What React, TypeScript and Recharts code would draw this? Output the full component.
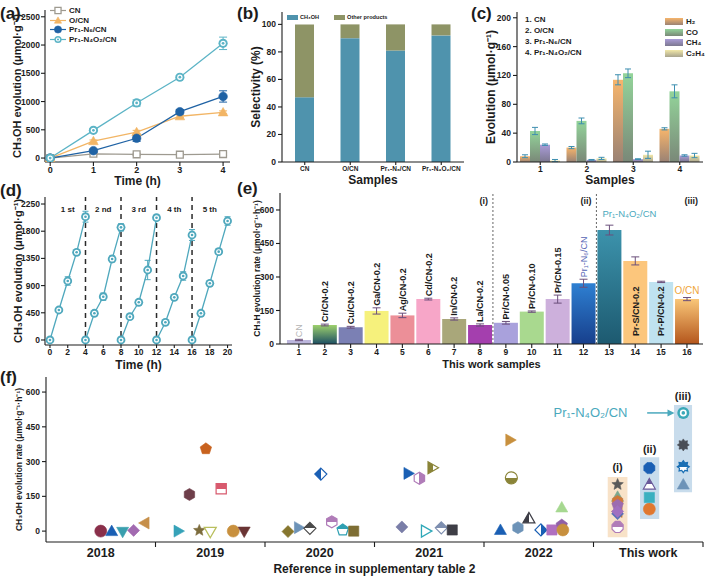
import React from "react";
import {
  LineChart,
  Line,
  BarChart,
  Bar,
  ScatterChart,
  Scatter,
  XAxis,
  YAxis,
  ErrorBar,
  ReferenceLine,
  ReferenceArea,
  ReferenceDot,
  Legend,
  Cell,
  LabelList,
} from "recharts";

const FONT = '"Liberation Sans", Arial, sans-serif';
const INK = "#1c1c1c";

// (a) CH3OH evolution vs time
const timeA = [0, 1, 2, 3, 4];
const cnA = [0, 75, 65, 60, 70];
const cnErrA = [4, 15, 20, 20, 20];
const ocnA = [0, 300, 460, 740, 810];
const ocnErrA = [4, 20, 30, 20, 25];
const prN6A = [0, 130, 350, 820, 1090];
const prN6ErrA = [4, 25, 55, 40, 100];
const prN4O2A = [0, 490, 975, 1430, 2030];
const prN4O2ErrA = [4, 25, 55, 25, 110];

// (b) selectivity
const samplesB = ["CN", "O/CN", "Pr₁-N₆/CN", "Pr₁-N₄O₂/CN"];
const methanolSelB = [47, 90, 81, 92];
const otherSelB = [53, 10, 19, 8];

// (c) other products
const samplesC = ["1", "2", "3", "4"];
const sampleNamesC = ["CN", "O/CN", "Pr₁-N₆/CN", "Pr₁-N₄O₂/CN"];
const h2C = [8, 20, 114, 46];
const h2ErrC = [2, 1.5, 7, 1.5];
const coC = [43, 57, 123, 98];
const coErrC = [5, 4, 6, 9];
const ch4C = [24, 3, 4, 9];
const ch4ErrC = [1, 0.5, 0.5, 1];
const c2h4C = [2, 5, 10, 9];
const c2h4ErrC = [1.5, 1.5, 5, 3];

// (d) cycling test
const cycleLabelsD = ["1 st", "2 nd", "3 rd", "4 th", "5 th"];
const cycleStartsD = [0, 4, 8, 12, 16];
const cycle1D = [0, 496, 976, 1451, 2040];
const cycle2D = [0, 442, 716, 1340, 1864];
const cycle3D = [0, 385, 624, 1158, 2023];
const cycle4D = [0, 293, 706, 1059, 1737];
const cycle5D = [0, 442, 938, 1461, 1969];
const cycle1ErrD = [10, 30, 70, 30, 90];
const cycle2ErrD = [10, 25, 60, 50, 60];
const cycle3ErrD = [10, 25, 30, 160, 30];
const cycle4ErrD = [10, 25, 30, 70, 90];
const cycle5ErrD = [10, 30, 30, 40, 70];
const cyclesD = [cycle1D, cycle2D, cycle3D, cycle4D, cycle5D];
const cycleErrsD = [cycle1ErrD, cycle2ErrD, cycle3ErrD, cycle4ErrD, cycle5ErrD];

// (e) rates of all samples
const samplesE = [1, 2, 3, 4, 5, 6, 7, 8, 9, 10, 11, 12, 13, 14, 15, 16];
const namesE = [
  "CN", "Cr/CN-0.2", "Cu/CN-0.2", "Ga/CN-0.2", "Ag/CN-0.2", "Cd/CN-0.2", "In/CN-0.2", "La/CN-0.2",
  "Pr/CN-0.05", "Pr/CN-0.10", "Pr/CN-0.15", "Pr₁-N₆/CN", "Pr₁-N₄O₂/CN", "Pr-S/CN-0.2", "Pr-P/CN-0.2", "O/CN",
];
const ratesE = [18, 85, 75, 148, 128, 201, 112, 85, 95, 145, 201, 272, 510, 372, 278, 201];
const errE = [3, 4, 4, 14, 10, 4, 5, 5, 6, 3, 18, 18, 22, 18, 3, 7];
const sectionsE = [
  { from: 0.27, to: 8.5, label: "(i)" },
  { from: 8.5, to: 12.5, label: "(ii)" },
  { from: 12.5, to: 16.62, label: "(iii)" },
];

// (f) comparison with references
const yearsF = ["2018", "2019", "2020", "2021", "2022", "This work"];
const refPosF = [
  0.5, 0.6, 0.7, 0.8, 0.9,
  1.21, 1.31, 1.4, 1.46, 1.5, 1.6, 1.71, 1.81,
  2.21, 2.31, 2.41, 2.51, 2.61, 2.71, 2.81,
  3.25, 3.31, 3.41, 3.47, 3.53, 3.61, 3.71,
  4.15, 4.24, 4.25, 4.31, 4.41, 4.52, 4.62, 4.71, 4.71, 4.72,
];
const refRateF = [
  0, 0, -3, 3, 35,
  0, 158, 3, 355, -3, 183, 0, -2,
  -2, 15, 12, 246, 40, 5, 0,
  18, 249, 228, 0, 273, 14, 5,
  5, 393, 230, 15, 55, 5, 5, 26, 102, 5,
];
const workGroupF = [0, 0, 0, 0, 0, 0, 0, 0, 1, 1, 1, 1, 2, 2, 2, 2];
const workGroupPosF = [5.22, 5.51, 5.82];

// marker styles [shape, colour, fill]
const refMarkF: [string, string, string][] = [
  ["circle", "#8a2f4a", "full"], ["triUp", "#1a5fb4", "full"], ["triDown", "#3a9fae", "full"], ["diamond", "#a26ab0", "full"], ["triLeft", "#c68f4a", "full"],
  ["triRight", "#36a2b8", "full"], ["hexagon", "#6e3e4a", "full"], ["star", "#7c6c3c", "full"], ["pentagon", "#c8621e", "full"], ["triDown", "#b9bf5e", "open"], ["square", "#d85a6e", "top"], ["circle", "#c8903e", "full"], ["triDown", "#6a3434", "full"],
  ["diamond", "#86762e", "full"], ["triRight", "#6d93b8", "full"], ["diamond", "#4a4a4a", "top"], ["diamond", "#1a5fb4", "left"], ["hexagon", "#b07cb8", "top"], ["pentagon", "#2fa0b2", "top"], ["square", "#7e6e34", "full"],
  ["diamond", "#7a7ea8", "full"], ["triRight", "#1a5fb4", "full"], ["hexagon", "#b07cb8", "right"], ["triRight", "#2fa8b8", "open"], ["triRight", "#8a8438", "left"], ["diamond", "#7e8fb0", "top"], ["square", "#3e3e46", "full"],
  ["triUp", "#1a5fb4", "full"], ["triRight", "#c8903e", "full"], ["circle", "#8a8438", "bottom"], ["hexagon", "#6d93b8", "full"], ["triUp", "#3e3e46", "left"], ["diamond", "#1a5fb4", "right"], ["square", "#b070c0", "full"], ["pentagon", "#9060a8", "full"], ["triUp", "#a6d890", "full"], ["circle", "#c8903e", "full"],
];
const workMarkF: [string, string, string][] = [
  ["octagon", "#b07cb8", "top"], ["triLeft", "#c87a30", "full"], ["diamond", "#5a70b8", "full"], ["triUp", "#7aa890", "full"],
  ["hexagon", "#d07838", "full"], ["star", "#5a5a5a", "full"], ["pentagon", "#9c6cb0", "full"], ["diamond", "#a070c0", "full"],
  ["circle", "#e07830", "full"], ["square", "#3ab0c0", "full"], ["triUp", "#6a5a9a", "top"], ["octagon", "#1a5fb4", "full"],
  ["ring", "#3aa8b8", "full"], ["gear", "#4a4e56", "full"], ["gear", "#1a6fb4", "top"], ["triUp", "#6d93b8", "full"],
];

// ---------- helpers ----------
const tk = (size: number) => ({ fontSize: size, fontWeight: 700, fill: INK });
const ttl = (size: number) => ({ fontSize: size, fontWeight: 700, fill: INK, textAnchor: "middle" as const });
const ax = { stroke: INK, strokeWidth: 1.1 };
const yTitle = (value: string, offset: number, size: number) => ({
  value, angle: -90, position: "insideLeft" as const, offset, textAnchor: "middle", style: ttl(size),
});
const xTitle = (value: string, offset: number, size: number) => ({
  value, position: "insideBottom" as const, offset, style: ttl(size),
});
const frame = <ReferenceArea fill="none" stroke={INK} strokeWidth={1.1} ifOverflow="visible" />;

function shapeD(shape: string, cx: number, cy: number, s: number): string {
  const P = (pts: number[][]) =>
    "M" + pts.map(([dx, dy]) => `${(cx + dx).toFixed(2)},${(cy + dy).toFixed(2)}`).join("L") + "Z";
  const reg = (n: number, rot: number) =>
    P(Array.from({ length: n }, (_, k) => {
      const a = rot + (2 * Math.PI * k) / n;
      return [s * Math.cos(a), s * Math.sin(a)];
    }));
  const star = (n: number, inner: number) =>
    P(Array.from({ length: 2 * n }, (_, k) => {
      const a = -Math.PI / 2 + (Math.PI * k) / n;
      const r = k % 2 ? s * inner : s;
      return [r * Math.cos(a), r * Math.sin(a)];
    }));
  const h = s * 0.85;
  switch (shape) {
    case "circle":
      return `M${cx - s},${cy}a${s},${s} 0 1,0 ${2 * s},0a${s},${s} 0 1,0 ${-2 * s},0Z`;
    case "square":
      return P([[-h, -h], [h, -h], [h, h], [-h, h]]);
    case "diamond":
      return P([[0, -s], [s, 0], [0, s], [-s, 0]]);
    case "triUp":
      return P([[0, -s], [s, s * 0.75], [-s, s * 0.75]]);
    case "triDown":
      return P([[0, s], [s, -s * 0.75], [-s, -s * 0.75]]);
    case "triLeft":
      return P([[-s, 0], [s * 0.75, -s], [s * 0.75, s]]);
    case "triRight":
      return P([[s, 0], [-s * 0.75, -s], [-s * 0.75, s]]);
    case "hexagon":
      return reg(6, Math.PI / 6);
    case "pentagon":
      return reg(5, -Math.PI / 2);
    case "octagon":
      return reg(8, Math.PI / 8);
    case "star":
      return star(5, 0.45);
    case "gear":
      return star(8, 0.68);
    default:
      return reg(4, 0);
  }
}

const halfDir: Record<string, number[]> = {
  top: [0, 0, 0, 1],
  bottom: [0, 1, 0, 0],
  left: [0, 0, 1, 0],
  right: [1, 0, 0, 0],
};

function Marker(props: { shape: string; color: string; fill: string; cx: number; cy: number; s: number; uid: string }) {
  const { shape, color, fill, cx, cy, s, uid } = props;
  if (cx == null || cy == null) return null;
  if (shape === "ring") {
    return (
      <g>
        <circle cx={cx} cy={cy} r={s} fill={color} />
        <circle cx={cx} cy={cy} r={s * 0.58} fill="#fff" />
        <circle cx={cx} cy={cy} r={s * 0.3} fill={color} />
      </g>
    );
  }
  const d = shapeD(shape, cx, cy, s);
  if (fill === "full") return <path d={d} fill={color} stroke={color} strokeWidth={0.6} />;
  if (fill === "open") return <path d={d} fill="#fff" stroke={color} strokeWidth={1.3} />;
  const dir = halfDir[fill];
  const id = `half-${uid}`;
  return (
    <g>
      <defs>
        <linearGradient id={id} x1={dir[0]} y1={dir[1]} x2={dir[2]} y2={dir[3]}>
          <stop offset="0.5" stopColor={color} />
          <stop offset="0.5" stopColor="#fff" />
        </linearGradient>
      </defs>
      <path d={d} fill={`url(#${id})`} stroke={color} strokeWidth={1.2} />
    </g>
  );
}

// ---------- (a) ----------
const seriesA = [
  { key: "cn", label: "CN", color: "#9e9a90", shape: "square", fill: "open", size: 4 },
  { key: "ocn", label: "O/CN", color: "#f2b565", shape: "triUp", fill: "full", size: 4.8 },
  { key: "prN6", label: "Pr₁-N₆/CN", color: "#1f62a4", shape: "circle", fill: "full", size: 4.3 },
  { key: "prN4O2", label: "Pr₁-N₄O₂/CN", color: "#5cb4c6", shape: "ring", fill: "full", size: 4.6 },
];
const rowsA = timeA.map((t, i) => ({
  t,
  cn: cnA[i], cnErr: cnErrA[i],
  ocn: ocnA[i], ocnErr: ocnErrA[i],
  prN6: prN6A[i], prN6Err: prN6ErrA[i],
  prN4O2: prN4O2A[i], prN4O2Err: prN4O2ErrA[i],
}));

const LegendA = () => (
  <div style={{ fontSize: 8, fontWeight: 700, color: INK, fontFamily: FONT }}>
    {seriesA.map((s) => (
      <div key={s.key} style={{ display: "flex", alignItems: "center", height: 9.6 }}>
        <svg width={16} height={9}>
          <line x1={0} x2={16} y1={4.5} y2={4.5} stroke={s.color} strokeWidth={1.2} />
          <Marker shape={s.shape} color={s.color} fill={s.fill} cx={8} cy={4.5} s={3.6} uid={`lg-${s.key}`} />
        </svg>
        <span style={{ marginLeft: 3 }}>{s.label}</span>
      </div>
    ))}
  </div>
);

function PanelA() {
  return (
    <LineChart width={235} height={192} data={rowsA} margin={{ top: 10, right: 5, bottom: 0, left: 0 }}>
      <XAxis type="number" dataKey="t" domain={[-0.12, 4.16]} ticks={timeA} allowDataOverflow height={30}
        tick={tk(9)} tickSize={4} tickMargin={1} axisLine={ax} tickLine={ax} label={xTitle("Time (h)", 7, 12)} />
      <YAxis type="number" domain={[-70, 2620]} ticks={[0, 500, 1000, 1500, 2000, 2500]} allowDataOverflow width={45}
        tick={tk(8.5)} tickSize={4} tickMargin={1} axisLine={ax} tickLine={ax} label={yTitle("CH₃OH evolution (μmol·g⁻¹)", 17, 11)} />
      {seriesA.map((s) => (
        <Line key={s.key} dataKey={s.key} stroke={s.color} strokeWidth={1.3} isAnimationActive={false}
          dot={(p: any) => (
            <Marker key={`${s.key}-${p.index}`} shape={s.shape} color={s.color} fill={s.fill} cx={p.cx} cy={p.cy} s={s.size} uid={`a-${s.key}-${p.index}`} />
          )}>
          <ErrorBar dataKey={`${s.key}Err`} width={4} stroke={s.color} strokeWidth={1} />
        </Line>
      ))}
      <Legend verticalAlign="middle" align="center" layout="horizontal"
        wrapperStyle={{ left: 50, top: 6, width: "auto" }} content={() => <LegendA />} />
      {frame}
    </LineChart>
  );
}

// ---------- (b) ----------
const rowsB = samplesB.map((name, i) => ({ name, methanol: methanolSelB[i], other: otherSelB[i] }));
const colorMethanol = "#4f93ad";
const colorOther = "#8e9466";

const LegendB = () => (
  <div style={{ display: "flex", alignItems: "center", fontSize: 5.6, fontWeight: 700, color: INK, fontFamily: FONT }}>
    <span style={{ width: 11, height: 5, background: colorMethanol, display: "inline-block" }} />
    <span style={{ marginLeft: 2, marginRight: 15 }}>CH₃OH</span>
    <span style={{ width: 11, height: 5, background: colorOther, display: "inline-block" }} />
    <span style={{ marginLeft: 2 }}>Other products</span>
  </div>
);

function PanelB() {
  return (
    <BarChart width={235} height={192} data={rowsB} margin={{ top: 12, right: 6, bottom: 0, left: 0 }}>
      <XAxis dataKey="name" interval={0} height={30} tick={tk(6.5)} tickSize={3} tickMargin={1} axisLine={ax} tickLine={ax}
        label={xTitle("Samples", 8, 12)} />
      <YAxis type="number" domain={[0, 109]} ticks={[0, 20, 40, 60, 80, 100]} allowDataOverflow width={47}
        tick={tk(8.5)} tickSize={4} axisLine={ax} tickLine={ax} label={yTitle("Selectivity (%)", 21, 12)} />
      <Bar dataKey="methanol" stackId="s" fill={colorMethanol} barSize={19} isAnimationActive={false} />
      <Bar dataKey="other" stackId="s" fill={colorOther} barSize={19} isAnimationActive={false} />
      <Legend verticalAlign="middle" align="center" layout="horizontal"
        wrapperStyle={{ left: 52, top: 14, width: "auto" }} content={() => <LegendB />} />
      {frame}
    </BarChart>
  );
}

// ---------- (c) ----------
const seriesC = [
  { key: "h2", label: "H₂", id: "gradH2", top: "#f7b56c", bottom: "#9a8274" },
  { key: "co", label: "CO", id: "gradCO", top: "#93d49a", bottom: "#7a8878" },
  { key: "ch4", label: "CH₄", id: "gradCH4", top: "#aa9cd8", bottom: "#7c7890" },
  { key: "c2h4", label: "C₂H₄", id: "gradC2H4", top: "#f2e8a8", bottom: "#a8a48e" },
];
const rowsC = samplesC.map((name, i) => ({
  name,
  h2: h2C[i], h2Err: h2ErrC[i],
  co: coC[i], coErr: coErrC[i],
  ch4: ch4C[i], ch4Err: ch4ErrC[i],
  c2h4: c2h4C[i], c2h4Err: c2h4ErrC[i],
}));

const LegendC = () => (
  <div style={{ fontSize: 8, fontWeight: 700, color: INK, fontFamily: FONT }}>
    {seriesC.map((s) => (
      <div key={s.key} style={{ display: "flex", alignItems: "center", height: 10.8 }}>
        <span style={{ width: 18, height: 7, display: "inline-block", background: `linear-gradient(${s.top}, ${s.bottom})` }} />
        <span style={{ marginLeft: 3 }}>{s.label}</span>
      </div>
    ))}
  </div>
);

function PanelC() {
  return (
    <BarChart width={239} height={192} data={rowsC} margin={{ top: 12, right: 6, bottom: 0, left: 0 }}
      barCategoryGap={3} barGap={0}>
      <defs>
        {seriesC.map((s) => (
          <linearGradient key={s.id} id={s.id} x1="0" y1="0" x2="0" y2="1">
            <stop offset="0" stopColor={s.top} />
            <stop offset="1" stopColor={s.bottom} />
          </linearGradient>
        ))}
      </defs>
      <XAxis dataKey="name" interval={0} height={30} tick={tk(8.5)} tickSize={3} tickMargin={1} axisLine={ax} tickLine={ax}
        label={xTitle("Samples", 8, 12)} />
      <YAxis type="number" domain={[0, 208]} ticks={[0, 40, 80, 120, 160, 200]} allowDataOverflow width={47}
        tick={tk(8.5)} tickSize={4} axisLine={ax} tickLine={ax} label={yTitle("Evolution (μmol·g⁻¹)", 21, 12)} />
      {seriesC.map((s) => (
        <Bar key={s.key} dataKey={s.key} fill={`url(#${s.id})`} barSize={10} isAnimationActive={false}>
          <ErrorBar dataKey={`${s.key}Err`} width={3} stroke="#3e8fb0" strokeWidth={1} />
        </Bar>
      ))}
      <Legend verticalAlign="middle" align="center" layout="horizontal"
        wrapperStyle={{ left: 195, top: 16, width: "auto" }} content={() => <LegendC />} />
      {frame}
    </BarChart>
  );
}

// ---------- (d) ----------
const colorD = "#4fa8bd";
const rowsD = cyclesD.map((vals, k) =>
  vals.map((v, j) => ({ t: cycleStartsD[k] + j, v, e: cycleErrsD[k][j] }))
);

function PanelD() {
  return (
    <LineChart width={240} height={185} margin={{ top: 7, right: 8, bottom: 0, left: 0 }}>
      <XAxis type="number" dataKey="t" domain={[-0.56, 20.5]} ticks={[0, 2, 4, 6, 8, 10, 12, 14, 16, 18, 20]}
        allowDataOverflow height={30} tick={tk(8.5)} tickSize={3} tickMargin={1} axisLine={ax} tickLine={ax}
        label={xTitle("Time (h)", 6, 12)} />
      <YAxis type="number" domain={[-83, 2366]} ticks={[0, 450, 900, 1350, 1800, 2250]} allowDataOverflow width={45}
        tick={tk(8.5)} tickSize={4} tickMargin={1} axisLine={ax} tickLine={ax} label={yTitle("CH₃OH evolution (μmol·g⁻¹)", 18, 11)} />
      {cycleStartsD.slice(1).map((x) => (
        <ReferenceLine key={x} x={x} stroke="#2a2a2a" strokeWidth={1.5} strokeDasharray="5 4" />
      ))}
      {cycleStartsD.map((x, k) => (
        <ReferenceArea key={`c${k}`} x1={x} x2={x + 4} fill="none" ifOverflow="visible"
          label={{ value: cycleLabelsD[k], position: "insideTop", offset: 9, style: { ...tk(8) } }} />
      ))}
      {rowsD.map((rows, k) => (
        <Line key={k} data={rows} dataKey="v" stroke={colorD} strokeWidth={1.3} isAnimationActive={false}
          dot={(p: any) => (
            <Marker key={`d${k}-${p.index}`} shape="ring" color={colorD} fill="full" cx={p.cx} cy={p.cy} s={4.4} uid={`d${k}-${p.index}`} />
          )}>
          <ErrorBar dataKey="e" width={3} stroke={colorD} strokeWidth={1} />
        </Line>
      ))}
      {frame}
    </LineChart>
  );
}

// ---------- (e) ----------
const fillsE = [
  "#bcb6dc", "url(#gradCr)", "#7b80b4", "#f6f17c", "#ec8f98", "#f7a6c8", "#a9a77a", "#a43fae",
  "#a9a1dc", "#a9d98f", "#cdb0dc", "url(#gradPrN6)", "url(#gradPrN4O2)", "#fcc67c", "#bfe2f0", "url(#gradOCN)",
];
const gradientsE = [
  { id: "gradCr", top: "#9dd06c", bottom: "#1d4f63" },
  { id: "gradPrN6", top: "#2e80d2", bottom: "#173f8c" },
  { id: "gradPrN4O2", top: "#3c93ac", bottom: "#1d5a70" },
  { id: "gradOCN", top: "#f9c678", bottom: "#b4561c" },
];
const rowsE = samplesE.map((idx, i) => ({ idx, rate: ratesE[i], err: errE[i] }));

const renderLabelE = (p: any) => {
  const i: number = p.index;
  const x = Number(p.x);
  const y = Number(p.y);
  const w = Number(p.width);
  const h = Number(p.height);
  const cx = x + w / 2;
  const top = y - errE[i] * (h / ratesE[i]);
  const name = namesE[i];
  if (i === 12) {
    return (
      <text x={cx + 20} y={top - 8} textAnchor="middle" fontSize={9.5} fontWeight={400} fill="#4aa9bd">{name}</text>
    );
  }
  if (i === 15) {
    return (
      <text x={cx} y={top - 4} textAnchor="middle" fontSize={10} fontWeight={400} fill="#efa63a">{name}</text>
    );
  }
  const inside = i === 13 || i === 14;
  const start = inside ? y + h - 8 : top - 2;
  const color = i === 0 ? "#b4b4b4" : i === 11 ? "#5565b5" : INK;
  const weight = i === 0 || i === 11 ? 400 : 700;
  return (
    <text transform={`translate(${cx + 3.3},${start}) rotate(-90)`} fontSize={9} fontWeight={weight} fill={color}>
      {name}
    </text>
  );
};

function PanelE() {
  return (
    <BarChart width={474} height={185} data={rowsE} margin={{ top: 3, right: 6, bottom: 0, left: 0 }}>
      <defs>
        {gradientsE.map((g) => (
          <linearGradient key={g.id} id={g.id} x1="0" y1="0" x2="0" y2="1">
            <stop offset="0" stopColor={g.top} />
            <stop offset="1" stopColor={g.bottom} />
          </linearGradient>
        ))}
      </defs>
      <XAxis type="number" dataKey="idx" domain={[0.27, 16.62]} ticks={samplesE} allowDataOverflow interval={0}
        height={31} tick={tk(8.5)} tickSize={4} tickMargin={1} axisLine={ax} tickLine={ax}
        label={xTitle("This work samples", 7, 11)} />
      <YAxis type="number" domain={[0, 676]} ticks={[0, 150, 300, 450, 600]} allowDataOverflow width={45}
        tick={tk(8.5)} tickSize={4} axisLine={ax} tickLine={ax}
        label={yTitle("CH₃H evolution rate (μmol·g⁻¹·h⁻¹)", 22, 8.5)} />
      {sectionsE.map((s) => (
        <ReferenceArea key={s.label} x1={s.from} x2={s.to} fill="none" ifOverflow="visible"
          label={{ value: s.label, position: "insideTopRight", offset: 5, style: tk(9) }} />
      ))}
      <ReferenceLine x={8.5} stroke="#555" strokeWidth={0.9} strokeDasharray="2 2" />
      <ReferenceLine x={12.5} stroke="#555" strokeWidth={0.9} strokeDasharray="2 2" />
      <Bar dataKey="rate" barSize={24} isAnimationActive={false}>
        {rowsE.map((r, i) => (
          <Cell key={r.idx} fill={fillsE[i]} />
        ))}
        <ErrorBar dataKey="err" width={4} stroke="#6b4f7b" strokeWidth={1} />
        <LabelList dataKey="rate" content={renderLabelE} />
      </Bar>
      {frame}
    </BarChart>
  );
}

// ---------- (f) ----------
const unitF = (709 - 6 - 46) / 6;
const rowsRefF = refPosF.map((x, i) => ({ x, rate: refRateF[i], i }));
const rowsWorkF = ratesE.map((rate, i) => ({ x: workGroupPosF[workGroupF[i]], rate, i }));
const boxesF = [
  { x1: 5.13, x2: 5.31, y1: -26, y2: 233, fill: "#f8e2c8", label: "(i)", offset: 6 },
  { x1: 5.425, x2: 5.6, y1: 52, y2: 319, fill: "#c8dcec", label: "(ii)", offset: 4 },
  { x1: 5.735, x2: 5.9, y1: 168, y2: 544, fill: "#c8dcec", label: "(iii)", offset: 5 },
];
const tealF = "#4aa9bd";

const YearTick = (p: any) => (
  <text x={p.x - unitF / 2} y={p.y + 8} textAnchor="middle" fontSize={12.5} fontWeight={700} fill={INK}>
    {yearsF[p.payload.value - 1]}
  </text>
);

function PanelF() {
  return (
    <ScatterChart width={709} height={207} margin={{ top: 5, right: 6, bottom: 0, left: 0 }}>
      <XAxis type="number" dataKey="x" domain={[0, 6]} ticks={[1, 2, 3, 4, 5, 6]} allowDataOverflow height={37}
        tick={<YearTick />} tickSize={5} axisLine={ax} tickLine={ax}
        label={xTitle("Reference in supplementary table 2", 6, 12)} />
      <YAxis type="number" dataKey="rate" domain={[-47, 665]} ticks={[0, 150, 300, 450, 600]} allowDataOverflow width={46}
        tick={tk(8.5)} tickSize={4} axisLine={ax} tickLine={ax}
        label={yTitle("CH₃OH evolution rate (μmol·g⁻¹·h⁻¹)", 19, 8.5)} />
      {boxesF.map((b) => (
        <ReferenceArea key={b.label} x1={b.x1} x2={b.x2} y1={b.y1} y2={b.y2} fill={b.fill} fillOpacity={1}
          ifOverflow="visible" label={{ value: b.label, position: "top", offset: b.offset, style: tk(11) }} />
      ))}
      <ReferenceLine segment={[{ x: 5.49, y: 510 }, { x: 5.72, y: 510 }]} stroke={tealF} strokeWidth={1.5} ifOverflow="visible" />
      <ReferenceDot x={5.74} y={510} ifOverflow="visible"
        shape={(p: any) => <path d={`M${p.cx},${p.cy}l-7,-3.5v7z`} fill={tealF} />} />
      <ReferenceDot x={5.31} y={510} ifOverflow="visible"
        shape={(p: any) => (
          <text x={p.cx} y={p.cy + 4.5} textAnchor="end" fontSize={13} fontWeight={400} fill={tealF}>Pr₁-N₄O₂/CN</text>
        )} />
      <Scatter data={rowsRefF} isAnimationActive={false}
        shape={(p: any) => {
          const m = refMarkF[p.payload.i];
          return <Marker shape={m[0]} color={m[1]} fill={m[2]} cx={p.cx} cy={p.cy} s={6} uid={`r${p.payload.i}`} />;
        }} />
      <Scatter data={rowsWorkF} isAnimationActive={false}
        shape={(p: any) => {
          const m = workMarkF[p.payload.i];
          return <Marker shape={m[0]} color={m[1]} fill={m[2]} cx={p.cx} cy={p.cy} s={6} uid={`w${p.payload.i}`} />;
        }} />
      {frame}
    </ScatterChart>
  );
}

// ---------- layout ----------
const Box = ({ left, top, children }: { left: number; top: number; children: React.ReactNode }) => (
  <div style={{ position: "absolute", left, top }}>{children}</div>
);
const Tag = ({ left, top, text }: { left: number; top: number; text: string }) => (
  <div style={{ position: "absolute", left, top, fontSize: 17, fontWeight: 700, lineHeight: "17px" }}>{text}</div>
);

export default function App() {
  return (
    <div style={{ position: "absolute", left: 0, top: 0, width: 709, height: 579, background: "#fff", overflow: "hidden", fontFamily: FONT, color: INK }}>
      <Box left={0} top={0}><PanelA /></Box>
      <Box left={235} top={0}><PanelB /></Box>
      <Box left={470} top={0}><PanelC /></Box>
      <Box left={0} top={190}><PanelD /></Box>
      <Box left={235} top={190}><PanelE /></Box>
      <Box left={0} top={372}><PanelF /></Box>
      <div style={{ position: "absolute", left: 525, top: 14, fontSize: 8, fontWeight: 700, lineHeight: "11px" }}>
        {sampleNamesC.map((n, i) => (
          <div key={n}>{`${samplesC[i]}. ${n}`}</div>
        ))}
      </div>
      <Tag left={0} top={5} text="(a)" />
      <Tag left={237} top={5} text="(b)" />
      <Tag left={471} top={5} text="(c)" />
      <Tag left={0} top={182} text="(d)" />
      <Tag left={237} top={180} text="(e)" />
      <Tag left={0} top={369} text="(f)" />
    </div>
  );
}
